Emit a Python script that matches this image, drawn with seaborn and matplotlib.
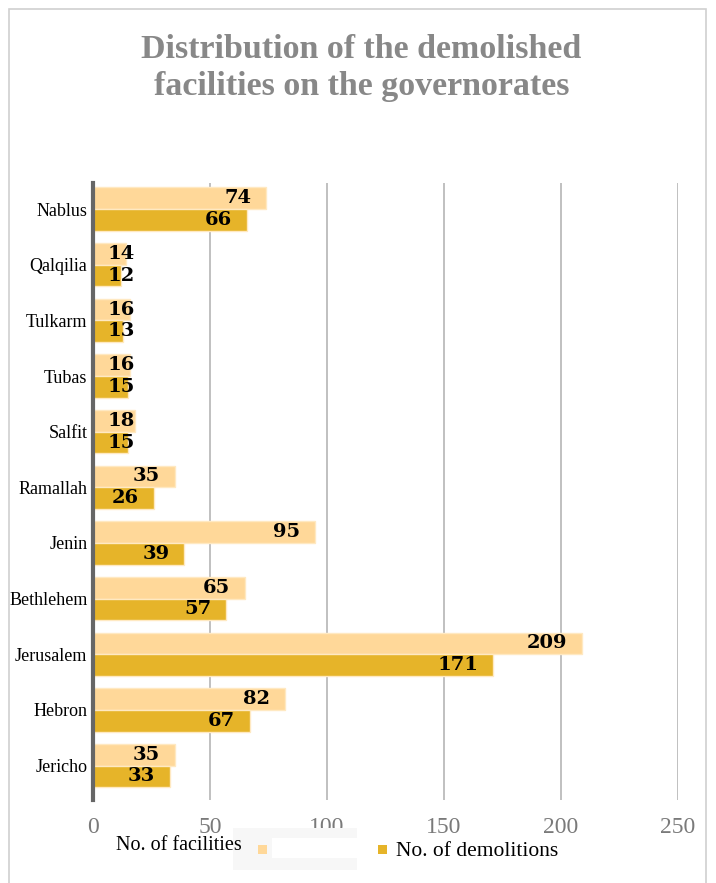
import matplotlib
matplotlib.use("Agg")
import matplotlib.pyplot as plt
import matplotlib.patches as mpatches
import seaborn as sns
import pandas as pd

governorates = ["Nablus", "Qalqilia", "Tulkarm", "Tubas", "Salfit", "Ramallah",
                "Jenin", "Bethlehem", "Jerusalem", "Hebron", "Jericho"]
facilities = [74, 14, 16, 16, 18, 35, 95, 65, 209, 82, 35]
demolitions = [66, 12, 13, 15, 15, 26, 39, 57, 171, 67, 33]
series_names = ["No. of facilities", "No. of demolitions"]
colors = ["#FFD899", "#E6B429"]
xticks = [0, 50, 100, 150, 200, 250]

df = pd.DataFrame({
    "gov": governorates * 2,
    "value": facilities + demolitions,
    "series": [series_names[0]] * len(governorates) + [series_names[1]] * len(governorates),
})

sns.set_style("white")
plt.rcParams["font.family"] = ["Liberation Serif", "DejaVu Serif"]

fig = plt.figure(figsize=(7.16, 8.83), dpi=100)
ax = fig.add_axes([93 / 716, 1 - 800 / 883, (678 - 93) / 716, (800 - 183) / 883])

sns.barplot(data=df, y="gov", x="value", hue="series", palette=colors,
            order=governorates, hue_order=series_names, orient="h",
            width=0.78, ax=ax, legend=False, edgecolor="#FFE9C2", linewidth=1.0,
            saturation=1)

ax.set_xlim(0, 250)
ax.set_ylim(10.62, -0.47)
ax.set_xticks(xticks)
ax.set_xticklabels([str(t) for t in xticks], color="#7a7a7a", fontsize=17)
ax.tick_params(axis="x", length=0, pad=12)
ax.tick_params(axis="y", length=0, pad=4, labelsize=13, labelcolor="black")
ax.set_xlabel("")
ax.set_ylabel("")
ax.xaxis.grid(True, color="#b5b5b5", linewidth=1.2)
ax.set_axisbelow(True)
for s in ["top", "right", "bottom"]:
    ax.spines[s].set_visible(False)
ax.spines["left"].set_color("#666666")
ax.spines["left"].set_linewidth(3)
ax.spines["left"].set_zorder(5)

# value labels
px_per_unit = (678 - 93) / 250
pad_units = 15 / px_per_unit
label_font = ["DejaVu Serif"]
for container, vals in zip(ax.containers, [facilities, demolitions]):
    for bar, v in zip(container, vals):
        y = bar.get_y() + bar.get_height() / 2
        txt = str(v)
        tw_units = (len(txt) * 12.5) / px_per_unit
        if v - pad_units - tw_units >= pad_units:
            ax.text(v - pad_units, y, txt, ha="right", va="center", family=label_font,
                    fontsize=14, fontweight="bold", color="black", zorder=6)
        else:
            ax.text(pad_units, y, txt, ha="left", va="center", family=label_font,
                    fontsize=14, fontweight="bold", color="black", zorder=6)

# title
fig.text(0.505, 1 - 49 / 883, "Distribution of the demolished", ha="center", va="center",
         fontsize=24.5, fontweight="bold", color="#888888")
fig.text(0.505, 1 - 87 / 883, "facilities on the governorates", ha="center", va="center",
         fontsize=24.5, fontweight="bold", color="#888888")

# legend background and items
fig.patches.append(mpatches.Rectangle((233 / 716, 1 - 870 / 883), (357 - 233) / 716, 42 / 883,
                                      transform=fig.transFigure, facecolor="#f7f7f7",
                                      edgecolor="none", zorder=0))
fig.patches.append(mpatches.Rectangle((272 / 716, 1 - 858 / 883), (361 - 272) / 716, 20 / 883,
                                      transform=fig.transFigure, facecolor="white",
                                      edgecolor="none", zorder=1))
fig.text(116 / 716, 1 - 846 / 883, series_names[0], ha="left", va="center",
         fontsize=14.5, color="black")
fig.patches.append(mpatches.Rectangle((258 / 716, 1 - 854 / 883), 9 / 716, 9 / 883,
                                      transform=fig.transFigure, facecolor=colors[0],
                                      edgecolor="none", zorder=2))
fig.patches.append(mpatches.Rectangle((378 / 716, 1 - 854 / 883), 9 / 716, 9 / 883,
                                      transform=fig.transFigure, facecolor=colors[1],
                                      edgecolor="none", zorder=2))
fig.text(396 / 716, 1 - 851 / 883, series_names[1], ha="left", va="center",
         fontsize=15.5, color="black")

# outer border
fig.patches.append(mpatches.Rectangle((9 / 716, -0.02), (706 - 9) / 716, 1.02 - 9 / 883,
                                      transform=fig.transFigure, facecolor="none",
                                      edgecolor="#d0d0d0", linewidth=1.2, zorder=0))

fig.savefig("out.png", dpi=100)
